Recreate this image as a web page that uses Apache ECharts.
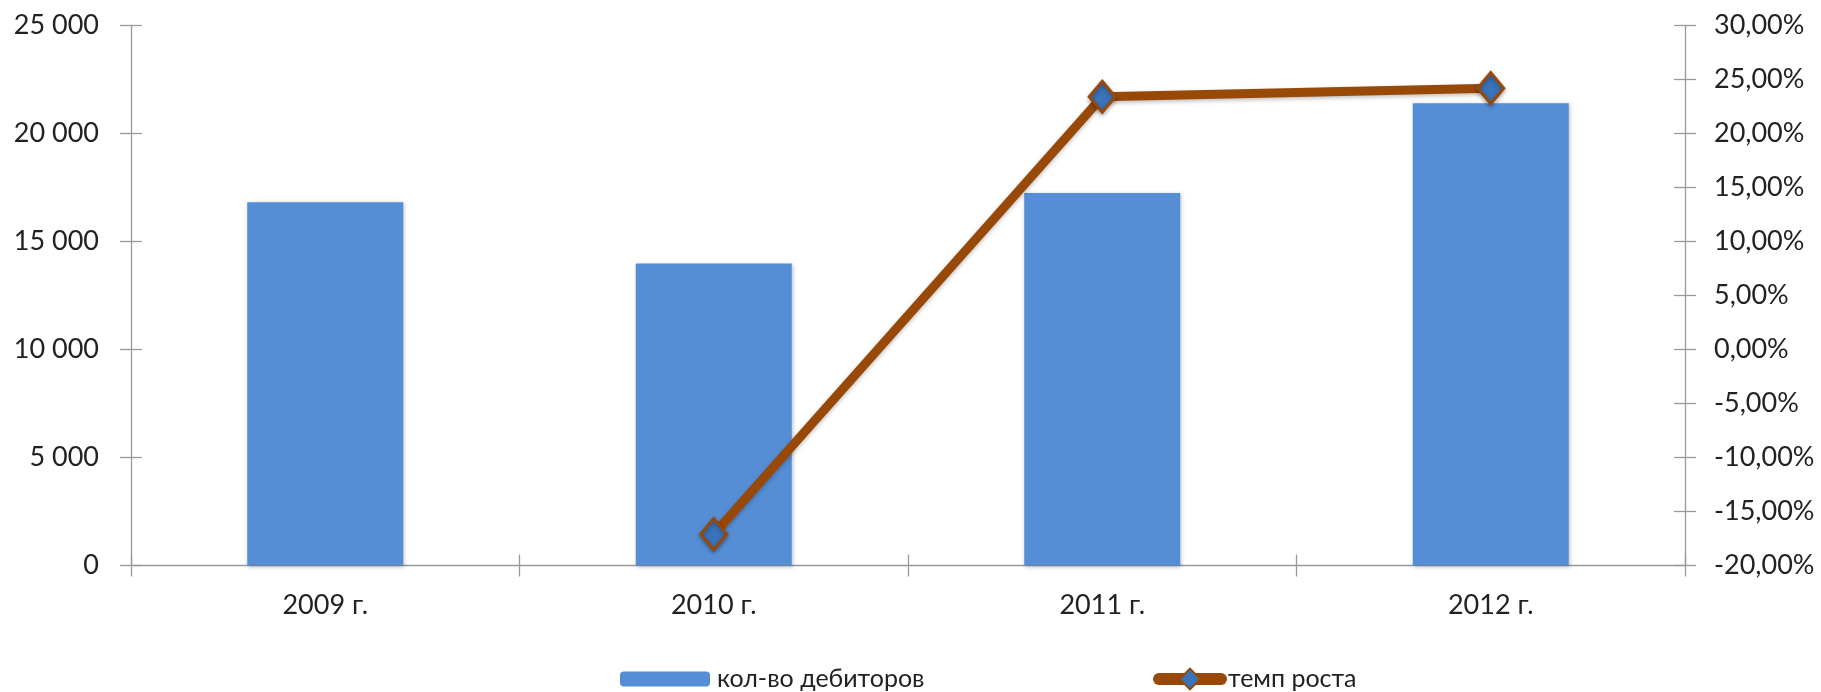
<!DOCTYPE html>
<html>
<head>
<meta charset="utf-8">
<script src="https://cdn.jsdelivr.net/npm/echarts@6/dist/echarts.min.js"></script>
<style>
html,body{margin:0;padding:0;background:#fff;}
#c{width:1821px;height:692px;}
</style>
</head>
<body>
<div id="c"></div>
<script>
const categories = ['2009 г.', '2010 г.', '2011 г.', '2012 г.'];
const debtors = [16820, 13980, 17250, 21400];
const growth = [null, -17.1, 23.4, 24.2];
const seriesNames = ['кол-во дебиторов', 'темп роста'];

const FONT = 'Lato';
const axisColor = '#9a9a9a';
const textColor = '#222';
const fs = 27;

const chart = echarts.init(document.getElementById('c'), null, {renderer: 'canvas'});

function fmtLeft(v) {
  return String(v).replace(/\B(?=(\d{3})+(?!\d))/g, ' ');
}
function fmtRight(v) {
  return v.toFixed(2).replace('.', ',') + '%';
}

const option = {
  animation: false,
  backgroundColor: '#fff',
  grid: {left: 131, right: 136, top: 25.5, bottom: 126.5, containLabel: false},
  legend: [
    {
      data: [seriesNames[0]], left: 615, top: 659,
      itemWidth: 90, itemHeight: 15, itemGap: 0,
      textStyle: {fontFamily: FONT, fontSize: 25, color: textColor, lineHeight: 30, padding: [0, 0, 0, 2]}
    },
    {
      data: [seriesNames[1]], left: 1148, top: 659,
      itemWidth: 62, itemHeight: 26, itemGap: 0,
      lineStyle: {width: 12, cap: 'round', color: '#984807'},
      itemStyle: {color: '#3A73BA', borderColor: '#984807', borderWidth: 2},
      textStyle: {fontFamily: FONT, fontSize: 25, color: textColor, lineHeight: 30, padding: [0, 0, 0, 2]}
    }
  ],
  xAxis: [
    {
      type: 'category', data: categories, position: 'bottom',
      axisLine: {show: true, onZero: false, lineStyle: {color: axisColor, width: 1.3}},
      axisTick: {show: true, length: 11, lineStyle: {color: axisColor, width: 1.3}},
      axisLabel: {fontFamily: FONT, fontSize: fs, color: textColor, margin: 26}
    },
    {
      type: 'category', data: categories, position: 'bottom', gridIndex: 0,
      axisLine: {show: false, onZero: false},
      axisTick: {show: true, inside: true, length: 11, lineStyle: {color: axisColor, width: 1.3}},
      axisLabel: {show: false}
    }
  ],
  yAxis: [
    {
      type: 'value', position: 'left', min: 0, max: 25000, interval: 5000,
      splitLine: {show: false},
      axisLine: {show: true, onZero: false, lineStyle: {color: axisColor, width: 1.3}},
      axisTick: {show: true, length: 11, lineStyle: {color: axisColor, width: 1.3}},
      axisLabel: {fontFamily: FONT, fontSize: fs, color: textColor, margin: 32, formatter: fmtLeft}
    },
    {
      type: 'value', position: 'right', min: -20, max: 30, interval: 5,
      splitLine: {show: false},
      axisLine: {show: true, onZero: false, lineStyle: {color: axisColor, width: 1.3}},
      axisTick: {show: true, length: 11, lineStyle: {color: axisColor, width: 1.3}},
      axisLabel: {fontFamily: FONT, fontSize: fs, color: textColor, margin: 29, formatter: fmtRight}
    },
    {
      type: 'value', position: 'left', min: 0, max: 25000, interval: 5000,
      splitLine: {show: false}, axisLine: {show: false, onZero: false},
      axisTick: {show: true, inside: true, length: 11, lineStyle: {color: axisColor, width: 1.3}},
      axisLabel: {show: false}
    },
    {
      type: 'value', position: 'right', min: -20, max: 30, interval: 5,
      splitLine: {show: false}, axisLine: {show: false, onZero: false},
      axisTick: {show: true, inside: true, length: 11, lineStyle: {color: axisColor, width: 1.3}},
      axisLabel: {show: false}
    }
  ],
  series: [
    {
      name: seriesNames[0], type: 'bar', data: debtors,
      xAxisIndex: 0, yAxisIndex: 0,
      barWidth: 156,
      itemStyle: {color: '#558ED5', shadowColor: 'rgba(0,0,0,0.25)', shadowBlur: 4, shadowOffsetX: 1, shadowOffsetY: 1}
    },
    {
      name: seriesNames[1], type: 'line', data: growth,
      xAxisIndex: 0, yAxisIndex: 1,
      symbol: 'diamond', symbolSize: [26, 31],
      lineStyle: {color: '#984807', width: 9, shadowColor: 'rgba(0,0,0,0.25)', shadowBlur: 4, shadowOffsetY: 2},
      itemStyle: {color: '#3A73BA', borderColor: '#984807', borderWidth: 3, shadowColor: 'rgba(0,0,0,0.3)', shadowBlur: 4, shadowOffsetY: 2},
      z: 5
    }
  ]
};
chart.setOption(option);
</script>
</body>
</html>
